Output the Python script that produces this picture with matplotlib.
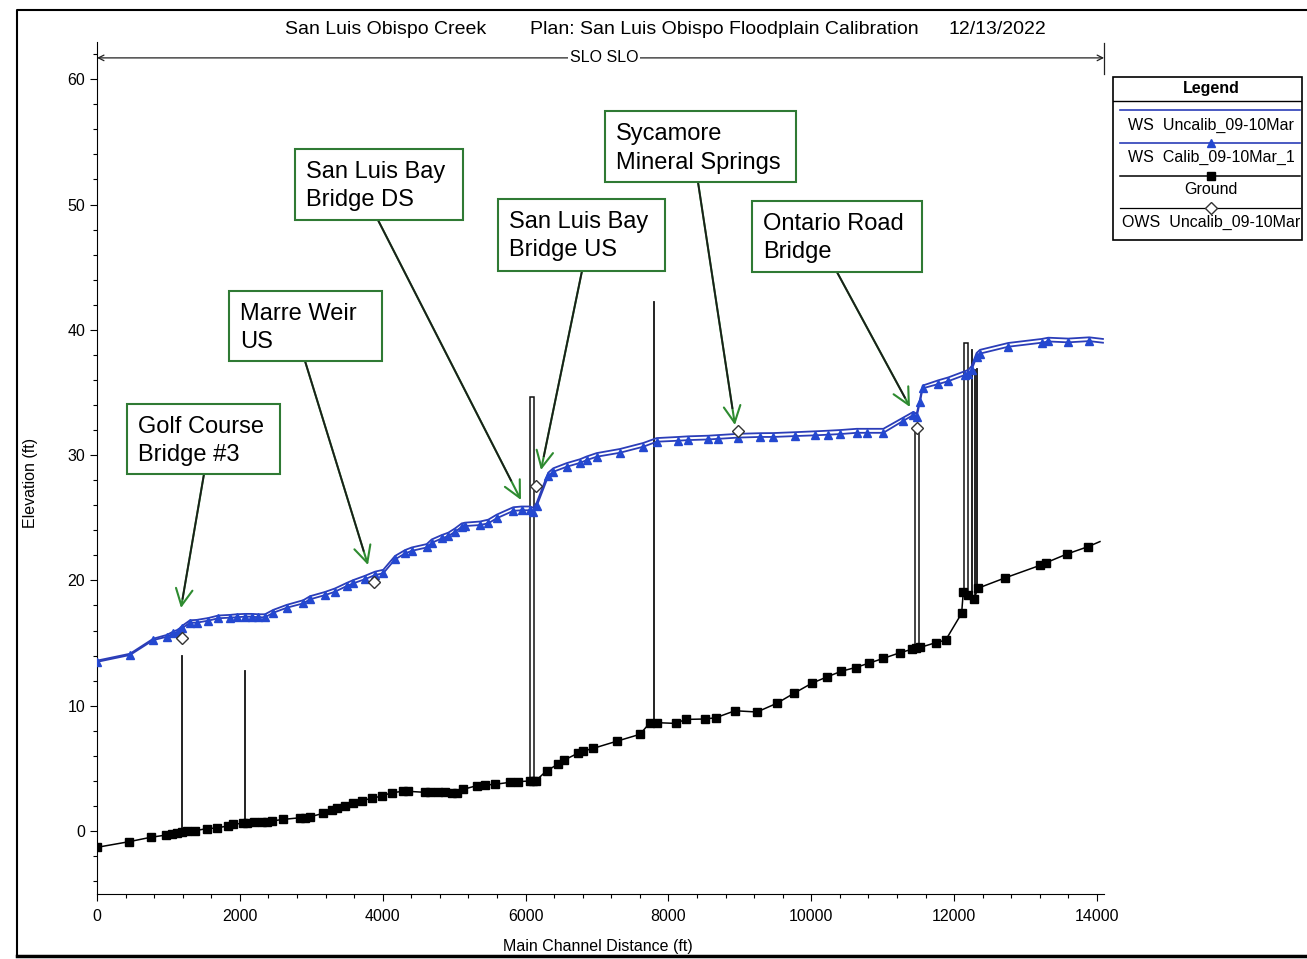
import matplotlib.pyplot as plt
import matplotlib.transforms as mtransforms
from matplotlib.patches import Rectangle
from matplotlib.ticker import MultipleLocator

plt.rcParams['font.family'] = ['Liberation Sans', 'DejaVu Sans']

W, H = 1307, 959

# water surface profiles (station ft, elevation ft)
ws_station = [0, 462, 788, 976, 1068, 1138, 1186, 1302, 1396, 1558,
              1698, 1862, 1956, 2072, 2166, 2258, 2352, 2468, 2656, 2888,
              2982, 3192, 3332, 3496, 3589, 3752, 3892, 4008, 4172, 4312,
              4406, 4616, 4686, 4826, 4918, 5012, 5106, 5152, 5362, 5478,
              5596, 5828, 5946, 6062, 6109, 6156, 6318, 6388, 6575, 6762,
              6855, 6995, 7322, 7648, 7836, 8138, 8278, 8558, 8698, 8978,
              9282, 9468, 9772, 10052, 10238, 10402, 10636, 10776, 11009, 11289,
              11429, 11476, 11522, 11560, 11778, 11918, 12152, 12198, 12245, 12315,
              12362, 12758, 13226, 13318, 13598, 13892, 14084]
ws_calib = [13.5, 14.05, 15.24, 15.5, 15.77, 15.9, 16.17, 16.63, 16.63, 16.79,
            16.98, 17.03, 17.06, 17.11, 17.11, 17.06, 17.06, 17.42, 17.82, 18.17,
            18.49, 18.83, 19.1, 19.55, 19.77, 20.1, 20.43, 20.57, 21.68, 22.15,
            22.36, 22.63, 23.0, 23.35, 23.54, 23.88, 24.28, 24.34, 24.42, 24.56,
            24.96, 25.55, 25.6, 25.6, 25.5, 25.94, 28.33, 28.67, 29.07, 29.38,
            29.6, 29.87, 30.19, 30.67, 31.07, 31.15, 31.2, 31.25, 31.3, 31.4,
            31.45, 31.45, 31.52, 31.58, 31.63, 31.68, 31.78, 31.78, 31.78, 32.74,
            33.2, 33.06, 34.26, 35.33, 35.67, 35.9, 36.4, 36.5, 36.8, 37.85,
            38.1, 38.65, 38.97, 39.07, 39.0, 39.1, 38.97]
ws_uncalib = [13.6, 14.15, 15.35, 15.65, 15.92, 16.08, 16.35, 16.82, 16.85, 17.0,
              17.2, 17.25, 17.3, 17.33, 17.33, 17.3, 17.3, 17.65, 18.05, 18.42,
              18.74, 19.08, 19.36, 19.8, 20.03, 20.37, 20.7, 20.85, 21.95, 22.42,
              22.63, 22.9, 23.27, 23.62, 23.81, 24.15, 24.55, 24.61, 24.7, 24.85,
              25.25, 25.84, 25.9, 25.9, 25.8, 26.2, 28.6, 28.95, 29.36, 29.67,
              29.89, 30.16, 30.49, 30.97, 31.36, 31.45, 31.5, 31.55, 31.6, 31.7,
              31.75, 31.76, 31.83, 31.9, 31.95, 32.0, 32.1, 32.1, 32.1, 33.0,
              33.45, 33.3, 34.45, 35.55, 35.97, 36.2, 36.7, 36.8, 37.1, 38.15,
              38.4, 38.95, 39.27, 39.37, 39.3, 39.4, 39.27]

ground_station = [0, 448, 751, 966, 1045, 1116, 1186, 1256, 1372, 1535,
                  1675, 1839, 1909, 2049, 2095, 2203, 2305, 2375, 2445, 2608,
                  2842, 2912, 2982, 3168, 3285, 3355, 3472, 3589, 3705, 3845,
                  3985, 4125, 4288, 4358, 4592, 4662, 4778, 4872, 4966, 5036,
                  5128, 5316, 5432, 5572, 5782, 5899, 6062, 6109, 6140, 6295,
                  6450, 6542, 6730, 6808, 6948, 7284, 7602, 7742, 7836, 8101,
                  8241, 8512, 8662, 8932, 9240, 9520, 9760, 10010, 10220, 10420,
                  10620, 10810, 11009, 11242, 11405, 11466, 11522, 11742, 11882, 12105,
                  12129, 12198, 12282, 12330, 12712, 13202, 13282, 13576, 13878, 14042]
ground_elev = [-1.3, -0.85, -0.5, -0.32, -0.24, -0.13, -0.05, -0.03, 0.03, 0.19,
               0.24, 0.42, 0.53, 0.64, 0.61, 0.72, 0.74, 0.74, 0.8, 0.93,
               1.06, 1.01, 1.14, 1.41, 1.68, 1.81, 2.02, 2.21, 2.42, 2.61,
               2.79, 3.06, 3.17, 3.17, 3.09, 3.09, 3.09, 3.09, 3.06, 3.01,
               3.33, 3.62, 3.67, 3.73, 3.89, 3.94, 4.0, 4.0, 4.0, 4.81,
               5.32, 5.67, 6.2, 6.38, 6.6, 7.18, 7.72, 8.65, 8.65, 8.59,
               8.91, 8.94, 9.04, 9.6, 9.5, 10.2, 11.0, 11.8, 12.3, 12.75,
               13.05, 13.4, 13.78, 14.23, 14.5, 14.58, 14.65, 15.03, 15.24, 17.37,
               19.1, 18.83, 18.5, 19.37, 20.2, 21.2, 21.4, 22.1, 22.7, 23.1]

ows_station = [1194, 3878, 6150, 8978, 11484]
ows_elev = [15.43, 19.9, 27.55, 31.92, 32.2]

# bridge / weir structures
deck_x = [1186, 2072, 7800, 12245, 12290, 12320]
deck_bottom = [-0.05, 0.63, 8.65, 18.83, 18.5, 19.3]
deck_top = [14.0, 12.8, 42.2, 38.4, 36.8, 36.9]
pier_x0 = [6060, 11450, 12140]
pier_x1 = [6125, 11505, 12200]
pier_bottom = [4.0, 14.55, 19.0]
pier_top = [34.6, 32.3, 38.95]

# annotation boxes (ft / ft) and arrow ends
note_text = ['Golf Course\nBridge #3', 'Marre Weir\nUS', 'San Luis Bay\nBridge DS',
             'San Luis Bay\nBridge US', 'Sycamore\nMineral Springs', 'Ontario Road\nBridge']
note_left = [420, 1848, 2772, 5614, 7112, 9170]
note_right = [2562, 3990, 5124, 7952, 9786, 11550]
note_top = [34.08, 43.10, 54.43, 50.44, 57.46, 50.28]
note_bottom = [28.49, 37.51, 48.76, 44.69, 51.80, 44.61]
arrow_from_x = [1498, 2912, 3934, 6790, 8414, 10360]
arrow_to_x = [1176, 3794, 5936, 6216, 8932, 11382]
arrow_to_y = [17.8, 21.23, 26.42, 28.81, 32.4, 33.84]

ws_blue = '#2b3db8'
box_green = '#2f7a34'

fig = plt.figure(figsize=(W / 100, H / 100), dpi=100)

# page layer in pixel coordinates
bg = fig.add_axes([0, 0, 1, 1])
bg.set_xlim(0, W)
bg.set_ylim(H, 0)
bg.axis('off')
bg.plot([17, 17, W], [956, 10, 10], color='black', lw=1.5)
bg.plot([17, W], [956, 956], color='black', lw=2.5)
bg.text(285, 29, 'San Luis Obispo Creek', fontsize=14, va='center')
bg.text(530, 29, 'Plan: San Luis Obispo Floodplain Calibration', fontsize=14, va='center')
bg.text(949, 29, '12/13/2022', fontsize=14, va='center')
bg.text(30, 483, 'Elevation (ft)', rotation=90, fontsize=11.5, ha='center', va='center')
bg.text(598, 946, 'Main Channel Distance (ft)', fontsize=11.5, ha='center', va='center')

ax = fig.add_axes([97 / W, 1 - 893.7 / H, (1104.1 - 97) / W, (893.7 - 41.6) / H])
ax.set_xlim(0, 14100)
ax.set_ylim(-5, 63)
ax.patch.set_alpha(0)
for side in ['top', 'right']:
    ax.spines[side].set_visible(False)
ax.xaxis.set_major_locator(MultipleLocator(2000))
ax.xaxis.set_minor_locator(MultipleLocator(400))
ax.yaxis.set_major_locator(MultipleLocator(10))
ax.yaxis.set_minor_locator(MultipleLocator(2))
ax.tick_params(which='both', direction='out', width=0.8, labelsize=11.5)
ax.tick_params(which='major', length=5)
ax.tick_params(which='minor', length=3)
ax.tick_params(axis='x', pad=6)

# structures
for x, b, t in zip(deck_x, deck_bottom, deck_top):
    ax.plot([x, x], [b, t], color='#111111', lw=1.3, zorder=2)
for x0, x1, b, t in zip(pier_x0, pier_x1, pier_bottom, pier_top):
    ax.add_patch(Rectangle((x0, b), x1 - x0, t - b, fc='white', ec='#111111', lw=1.1, zorder=2))

# profiles
ax.plot(ground_station, ground_elev, color='black', lw=1.1, marker='s', ms=5.5,
        markevery=slice(0, -1), zorder=3)
ax.plot(ws_station, ws_uncalib, color=ws_blue, lw=1.3, zorder=4)
ax.plot(ws_station, ws_calib, color=ws_blue, lw=1.3, marker='^', ms=6,
        mfc='#2448d0', mec='#2448d0', markevery=slice(0, -1), zorder=4)
ax.plot(ows_station, ows_elev, ls='none', marker='D', ms=6, mfc='white',
        mec='#333333', mew=1, zorder=5)

# reach bar
ax.annotate('', xy=(0, 61.7), xytext=(14100, 61.7),
            arrowprops=dict(arrowstyle='<->', lw=0.9, color='#222222', shrinkA=0, shrinkB=0),
            annotation_clip=False)
ax.plot([14100, 14100], [60.4, 62.9], color='#222222', lw=0.9, clip_on=False)
ax.text(7100, 61.7, 'SLO SLO', fontsize=11.5, ha='center', va='center',
        bbox=dict(fc='white', ec='none', pad=1))

# labelled locations
text_trans = mtransforms.offset_copy(ax.transData, fig=fig, x=10.7, y=-57.5, units='dots')
for txt, l, r, t, b, fx, tx, ty in zip(note_text, note_left, note_right, note_top,
                                       note_bottom, arrow_from_x, arrow_to_x, arrow_to_y):
    ax.add_patch(Rectangle((l, b), r - l, t - b, fc='white', ec=box_green, lw=1.5, zorder=8))
    ax.text(l, t, txt, transform=text_trans, ha='left', va='baseline', fontsize=17,
            linespacing=1.37, zorder=9)
    ax.annotate('', xy=(tx, ty), xytext=(fx, b),
                arrowprops=dict(arrowstyle='->,head_length=0.6,head_width=0.3', color='#2e8b30',
                                lw=1.5, shrinkA=0, shrinkB=0, mutation_scale=20), zorder=7)
    ax.plot([fx, fx + 0.93 * (tx - fx)], [b, b + 0.93 * (ty - b)], color='#1c1c1c', lw=1.3, zorder=7)

# legend
lax = fig.add_axes([1113 / W, 1 - 240 / H, 189 / W, 163 / H])
lax.set_xlim(1113, 1302)
lax.set_ylim(240, 77)
lax.axis('off')
lax.add_patch(Rectangle((1113, 77), 189, 163, fill=False, ec='black', lw=1.2, clip_on=False))
lax.plot([1113, 1302], [101, 101], color='black', lw=1)
lax.text(1211, 88, 'Legend', fontsize=11.5, fontweight='bold', ha='center', va='center')
lax.plot([1120, 1300], [110, 110], color=ws_blue, lw=1.2)
lax.text(1211, 125, 'WS  Uncalib_09-10Mar', fontsize=11.5, ha='center', va='center')
lax.plot([1120, 1300], [143, 143], color=ws_blue, lw=1.2)
lax.plot([1211], [143], marker='^', ms=6, color='#2448d0')
lax.text(1211, 157, 'WS  Calib_09-10Mar_1', fontsize=11.5, ha='center', va='center')
lax.plot([1120, 1300], [176, 176], color='black', lw=1.1)
lax.plot([1211], [176], marker='s', ms=5.5, color='black')
lax.text(1211, 189, 'Ground', fontsize=11.5, ha='center', va='center')
lax.plot([1120, 1300], [208, 208], color='black', lw=0.9)
lax.plot([1211], [208], marker='D', ms=6, mfc='white', mec='#333333', mew=1)
lax.text(1211, 222, 'OWS  Uncalib_09-10Mar', fontsize=11.5, ha='center', va='center')

fig.savefig('out.png', dpi=100)
